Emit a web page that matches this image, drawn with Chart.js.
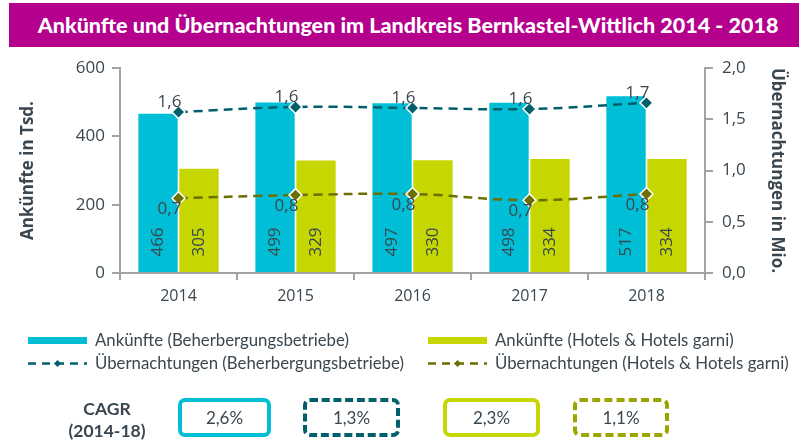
<!DOCTYPE html>
<html>
<head>
<meta charset="utf-8">
<script src="https://cdn.jsdelivr.net/npm/chart.js@4"></script>
<style>
  html, body { margin: 0; padding: 0; background: #fff; }
  #wrap { position: relative; width: 799px; height: 441px; overflow: hidden; font-family: Lato, sans-serif; color: #3a4750; }
  #title { position: absolute; left: 9px; top: 3px; width: 790px; height: 44px; background: #b4008c; color: #fff;
           font: 900 21.5px Lato, sans-serif; line-height: 44px; text-align: center; padding-left: 8px; box-sizing: border-box; }
  #c { position: absolute; left: 0; top: 0; }
  .leg { position: absolute; font-size: 16.8px; white-space: nowrap; }
  .leg svg { position: absolute; left: -67px; top: 3px; }
  .cagr-lbl { position: absolute; left: 57px; top: 398px; width: 100px; text-align: center; font: bold 17.5px Lato, sans-serif; line-height: 22px; color: #3a4750; }
  .box { position: absolute; top: 398px; height: 39px; box-sizing: border-box; border-width: 4px; border-radius: 7px;
         text-align: center; line-height: 31px; font-size: 17px; }
</style>
</head>
<body>
<div id="wrap">
  <canvas id="c" width="799" height="441"></canvas>
  <div id="title">Ankünfte und Übernachtungen im Landkreis Bernkastel-Wittlich 2014 - 2018</div>
  <div id="legend"></div>
  <div class="cagr-lbl">CAGR<br>(2014-18)</div>
  <div id="boxes"></div>
</div>
<script>
// Daten
const years = ['2014', '2015', '2016', '2017', '2018'];
const ankuenfteBeh = [466, 499, 497, 498, 517];   // Tsd.
const ankuenfteHotel = [305, 329, 330, 334, 334]; // Tsd.
const uebernBeh = [1.57, 1.62, 1.61, 1.60, 1.66];   // Mio.
const uebernHotel = [0.73, 0.76, 0.77, 0.71, 0.77]; // Mio.
const seriesNames = ['Ankünfte (Beherbergungsbetriebe)', 'Ankünfte (Hotels & Hotels garni)',
                     'Übernachtungen (Beherbergungsbetriebe)', 'Übernachtungen (Hotels & Hotels garni)'];
const cagrValues = ['2,6%', '1,3%', '2,3%', '1,1%'];

const cyan = '#00bed6';
const lime = '#c5d600';
const teal = '#005f6b';
const olive = '#6b6e00';
const textColor = '#3a4750';
const axisColor = '#a3a3a3';

const fmt = v => v.toFixed(1).replace('.', ',');

// Wertelabels selbst zeichnen (kein datalabels plugin)
const labelPlugin = {
    id: 'valueLabels',
    afterDatasetsDraw(chart) {
        const ctx = chart.ctx;
        ctx.save();
        ctx.fillStyle = textColor;
        ctx.font = '17px "Open Sans"';
        ctx.textAlign = 'center';
        ctx.textBaseline = 'middle';
        [0, 1].forEach(di => {
            chart.getDatasetMeta(di).data.forEach((bar, i) => {
                ctx.save();
                ctx.translate(bar.x, bar.base - 30);
                ctx.rotate(-Math.PI / 2);
                ctx.fillText(chart.data.datasets[di].data[i], 0, 0);
                ctx.restore();
            });
        });
        chart.getDatasetMeta(2).data.forEach((pt, i) => {
            ctx.fillText(fmt(uebernBeh[i]), pt.x - 9, pt.y - 10);
        });
        chart.getDatasetMeta(3).data.forEach((pt, i) => {
            ctx.fillText(fmt(uebernHotel[i]), pt.x - 9, pt.y + 11);
        });
        ctx.restore();
    }
};

new Chart(document.getElementById('c').getContext('2d'), {
    type: 'bar',
    data: {
        labels: years,
        datasets: [{
            label: seriesNames[0],
            data: ankuenfteBeh,
            backgroundColor: cyan,
            yAxisID: 'y',
            order: 2,
            categoryPercentage: 0.7,
            barPercentage: 0.96
        }, {
            label: seriesNames[1],
            data: ankuenfteHotel,
            backgroundColor: lime,
            yAxisID: 'y',
            order: 2,
            categoryPercentage: 0.7,
            barPercentage: 0.96
        }, {
            type: 'line',
            label: seriesNames[2],
            data: uebernBeh,
            borderColor: teal,
            borderWidth: 2.5,
            borderDash: [9, 6],
            tension: 0.4,
            pointStyle: 'rectRot',
            pointRadius: 6.5,
            pointBackgroundColor: teal,
            pointBorderColor: '#fff',
            pointBorderWidth: 1.5,
            yAxisID: 'y1',
            order: 0
        }, {
            type: 'line',
            label: seriesNames[3],
            data: uebernHotel,
            borderColor: olive,
            borderWidth: 2.5,
            borderDash: [9, 6],
            tension: 0.4,
            pointStyle: 'rectRot',
            pointRadius: 6.5,
            pointBackgroundColor: olive,
            pointBorderColor: '#fff',
            pointBorderWidth: 1.5,
            yAxisID: 'y1',
            order: 1
        }]
    },
    options: {
        responsive: false,
        animation: false,
        layout: { padding: { top: 68, bottom: 128, left: 0, right: 0 } },
        plugins: {
            legend: { display: false },
            tooltip: { enabled: false }
        },
        scales: {
            x: {
                afterFit: s => { s.height = 40; },
                grid: { offset: true, drawOnChartArea: false, color: axisColor, lineWidth: 2, tickLength: 7 },
                border: { color: axisColor, width: 2 },
                ticks: { color: textColor, font: { family: 'Open Sans', size: 16 }, padding: 7 }
            },
            y: {
                position: 'left',
                min: 0, max: 600,
                afterFit: s => { s.width = 120; },
                ticks: { stepSize: 200, color: textColor, font: { family: 'Open Sans', size: 17 }, padding: 7 },
                grid: { drawOnChartArea: false, color: axisColor, lineWidth: 2, tickLength: 8 },
                border: { color: axisColor, width: 2 },
                title: { display: true, text: 'Ankünfte in Tsd.', color: textColor,
                         font: { family: 'Open Sans', size: 17, weight: 'bold' }, padding: { top: 18 } }
            },
            y1: {
                position: 'right',
                min: 0, max: 2,
                afterFit: s => { s.width = 94; },
                ticks: { stepSize: 0.5, color: textColor, font: { family: 'Open Sans', size: 17 }, padding: 9,
                         callback: v => fmt(v) },
                grid: { drawOnChartArea: false, color: axisColor, lineWidth: 2, tickLength: 8 },
                border: { color: axisColor, width: 2 },
                title: { display: true, text: 'Übernachtungen in Mio.', color: textColor,
                         font: { family: 'Open Sans', size: 17, weight: 'bold' }, padding: { top: 12 } }
            }
        }
    },
    plugins: [labelPlugin]
});

// Legende (HTML, zwei Spalten)
const legendItems = [
    { name: seriesNames[0], color: cyan, kind: 'bar', x: 95, y: 329 },
    { name: seriesNames[1], color: lime, kind: 'bar', x: 495, y: 329 },
    { name: seriesNames[2], color: teal, kind: 'line', x: 95, y: 352 },
    { name: seriesNames[3], color: olive, kind: 'line', x: 495, y: 352 }
];
const legend = document.getElementById('legend');
legendItems.forEach(item => {
    const d = document.createElement('div');
    d.className = 'leg';
    d.style.left = item.x + 'px';
    d.style.top = item.y + 'px';
    let icon;
    if (item.kind === 'bar') {
        icon = `<svg width="60" height="16"><rect x="0" y="5" width="59" height="7" fill="${item.color}"/></svg>`;
    } else {
        icon = `<svg width="60" height="16"><line x1="0" y1="8.5" x2="59" y2="8.5" stroke="${item.color}" stroke-width="2.5" stroke-dasharray="8,6"/>` +
               `<rect x="27" y="6" width="5" height="5" fill="${item.color}" transform="rotate(45 29.5 8.5)"/></svg>`;
    }
    d.innerHTML = icon + item.name;
    legend.appendChild(d);
});

// CAGR Kästen
const boxStyles = [
    { left: 178, width: 93, color: cyan, style: 'solid' },
    { left: 303, width: 97, color: teal, style: 'dashed' },
    { left: 443, width: 97, color: lime, style: 'solid' },
    { left: 573, width: 96, color: '#9aa500', style: 'dashed' }
];
const boxes = document.getElementById('boxes');
cagrValues.forEach((v, i) => {
    const b = document.createElement('div');
    b.className = 'box';
    b.style.left = boxStyles[i].left + 'px';
    b.style.width = boxStyles[i].width + 'px';
    b.style.borderColor = boxStyles[i].color;
    b.style.borderStyle = boxStyles[i].style;
    b.textContent = v;
    boxes.appendChild(b);
});
</script>
</body>
</html>
